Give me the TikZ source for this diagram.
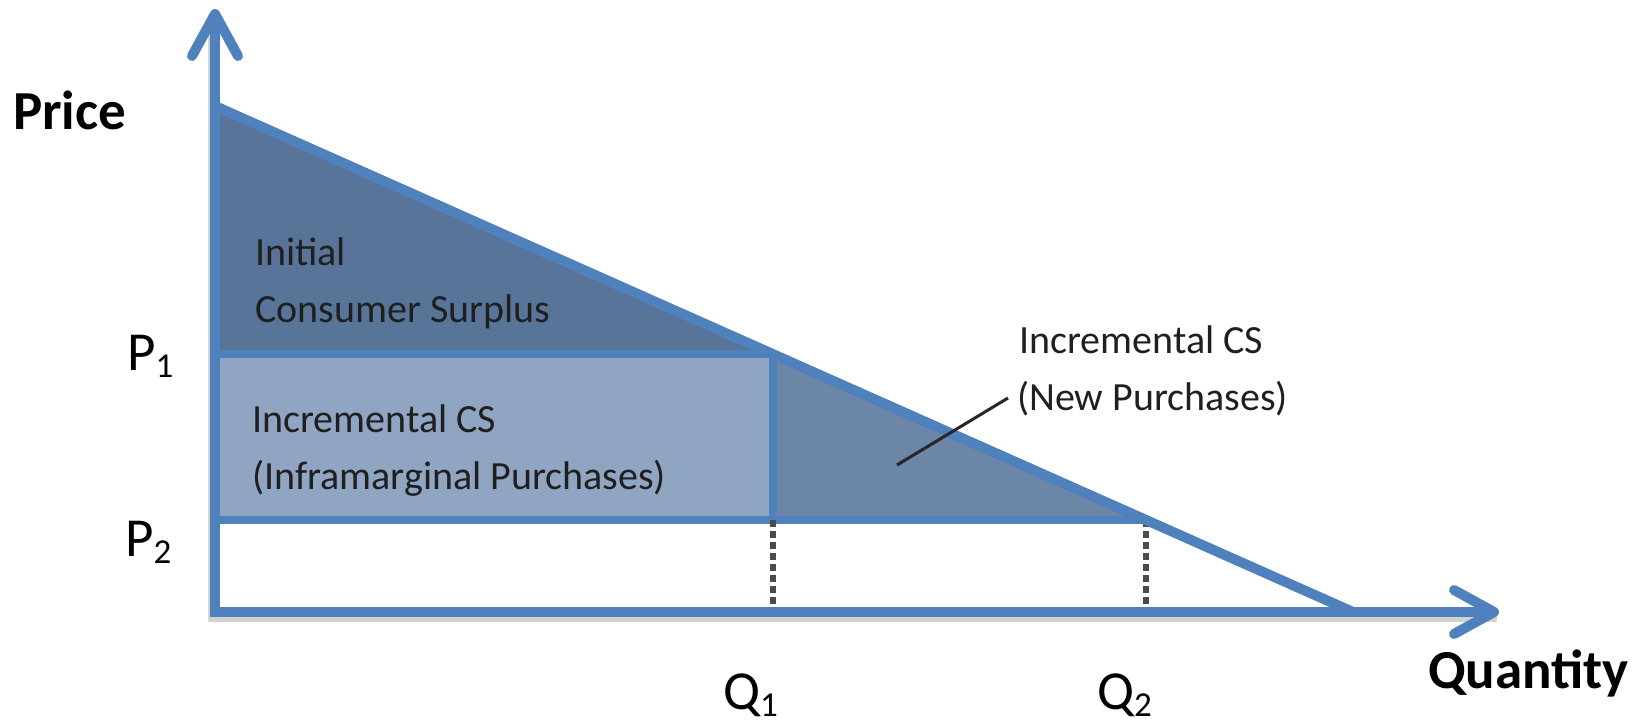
\documentclass[tikz,border=0pt]{standalone}
\usepackage{fontspec}
\setmainfont{Carlito}
\definecolor{axisblue}{RGB}{79,129,189}
\definecolor{csdark}{RGB}{88,116,152}
\definecolor{cslight}{RGB}{143,165,194}
\definecolor{csmid}{RGB}{108,134,168}
\definecolor{dashgray}{RGB}{75,75,75}
\definecolor{shadowgray}{RGB}{210,210,210}
\newcommand\subsc[1]{\raisebox{-7pt}{\fontsize{35}{35}\selectfont #1}}
\tikzset{
  axisline/.style={draw=axisblue, line width=10pt, line join=miter},
  axishead/.style={draw=axisblue, line width=10pt, line join=round, line cap=round},
  axisshadow/.style={draw=shadowgray, line width=9pt, line join=miter},
  demandline/.style={draw=axisblue, line width=10pt, line cap=round},
  borderline/.style={draw=axisblue, line width=8pt},
  guideline/.style={draw=dashgray, line width=5.5pt, dash pattern=on 7pt off 4pt},
  leaderline/.style={draw=black!85, line width=3pt},
  boldlbl/.style={inner sep=0pt, font=\fontsize{55}{60}\selectfont\bfseries, text=black},
  axlbl/.style={inner sep=0pt, anchor=base west, font=\fontsize{55}{60}\selectfont, text=black},
  arealbl/.style={inner sep=0pt, anchor=base west, font=\fontsize{40}{48}\selectfont, text=black!88}
}
\begin{document}
\begin{tikzpicture}[x=1pt, y=-1pt]
\useasboundingbox (0,0) rectangle (1639,721);
% key points
\coordinate (O) at (215,612);
\coordinate (Ytop) at (215,14);
\coordinate (Xtip) at (1494,612);
\coordinate (yl) at (192,56);
\coordinate (yr) at (238,56);
\coordinate (xu) at (1454,590);
\coordinate (xd) at (1454,634);
\coordinate (D0) at (215,106);
\coordinate (D1) at (1353,612);
\coordinate (P1) at (215,354);
\coordinate (P2) at (215,520);
\coordinate (A) at (773,354);
\coordinate (B) at (1146,520);
\coordinate (C) at (773,520);
\coordinate (Q1x) at (773,612);
\coordinate (Q2x) at (1146,612);
\coordinate (l1) at (897,465);
\coordinate (l2) at (1008,398);
% areas
\fill[csdark] (D0) -- (A) -- (P1) -- cycle;
\fill[cslight] (P1) rectangle (C);
\fill[csmid] (A) -- (B) -- (C) -- cycle;
% borders
\draw[borderline] (P1) -- (A);
\draw[borderline] (P2) -- (B);
\draw[borderline] (A) -- (C);
% guides
\draw[guideline] (C) -- (Q1x);
\draw[guideline] (B) -- (Q2x);
% demand
\draw[demandline] (D0) -- (D1);
% axes shadow
\draw[axisshadow] ([xshift=-3pt,yshift=-4pt]Ytop) -- ([xshift=-3pt,yshift=-5pt]O) -- ([xshift=3pt,yshift=-5pt]Xtip);
% axes
\draw[axisline] (Ytop) -- (O) -- (Xtip);
\draw[axishead] (yl) -- (Ytop) -- (yr);
\draw[axishead] (xu) -- (Xtip) -- (xd);
% leader
\draw[leaderline] (l1) -- (l2);
% labels
\node[boldlbl, anchor=base west] (price) at (13,129) {Price};
\node[boldlbl, anchor=base east] (quantity) at (1629,688) {Quantity};
\node[axlbl] (p1) at (127,370) {P\subsc{1}};
\node[axlbl] (p2) at (125,556) {P\subsc{2}};
\node[axlbl] (q1) at (723,709) {Q\subsc{1}};
\node[axlbl] (q2) at (1097,709) {Q\subsc{2}};
\node[arealbl] (init1) at (255,265) {Initial};
\node[arealbl] (init2) at (255,322) {Consumer Surplus};
\node[arealbl] (inc1) at (252,432) {Incremental CS};
\node[arealbl] (inc2) at (252,489) {(Inframarginal Purchases)};
\node[arealbl] (new1) at (1019,353) {Incremental CS};
\node[arealbl] (new2) at (1017,410) {(New Purchases)};
\end{tikzpicture}
\end{document}
